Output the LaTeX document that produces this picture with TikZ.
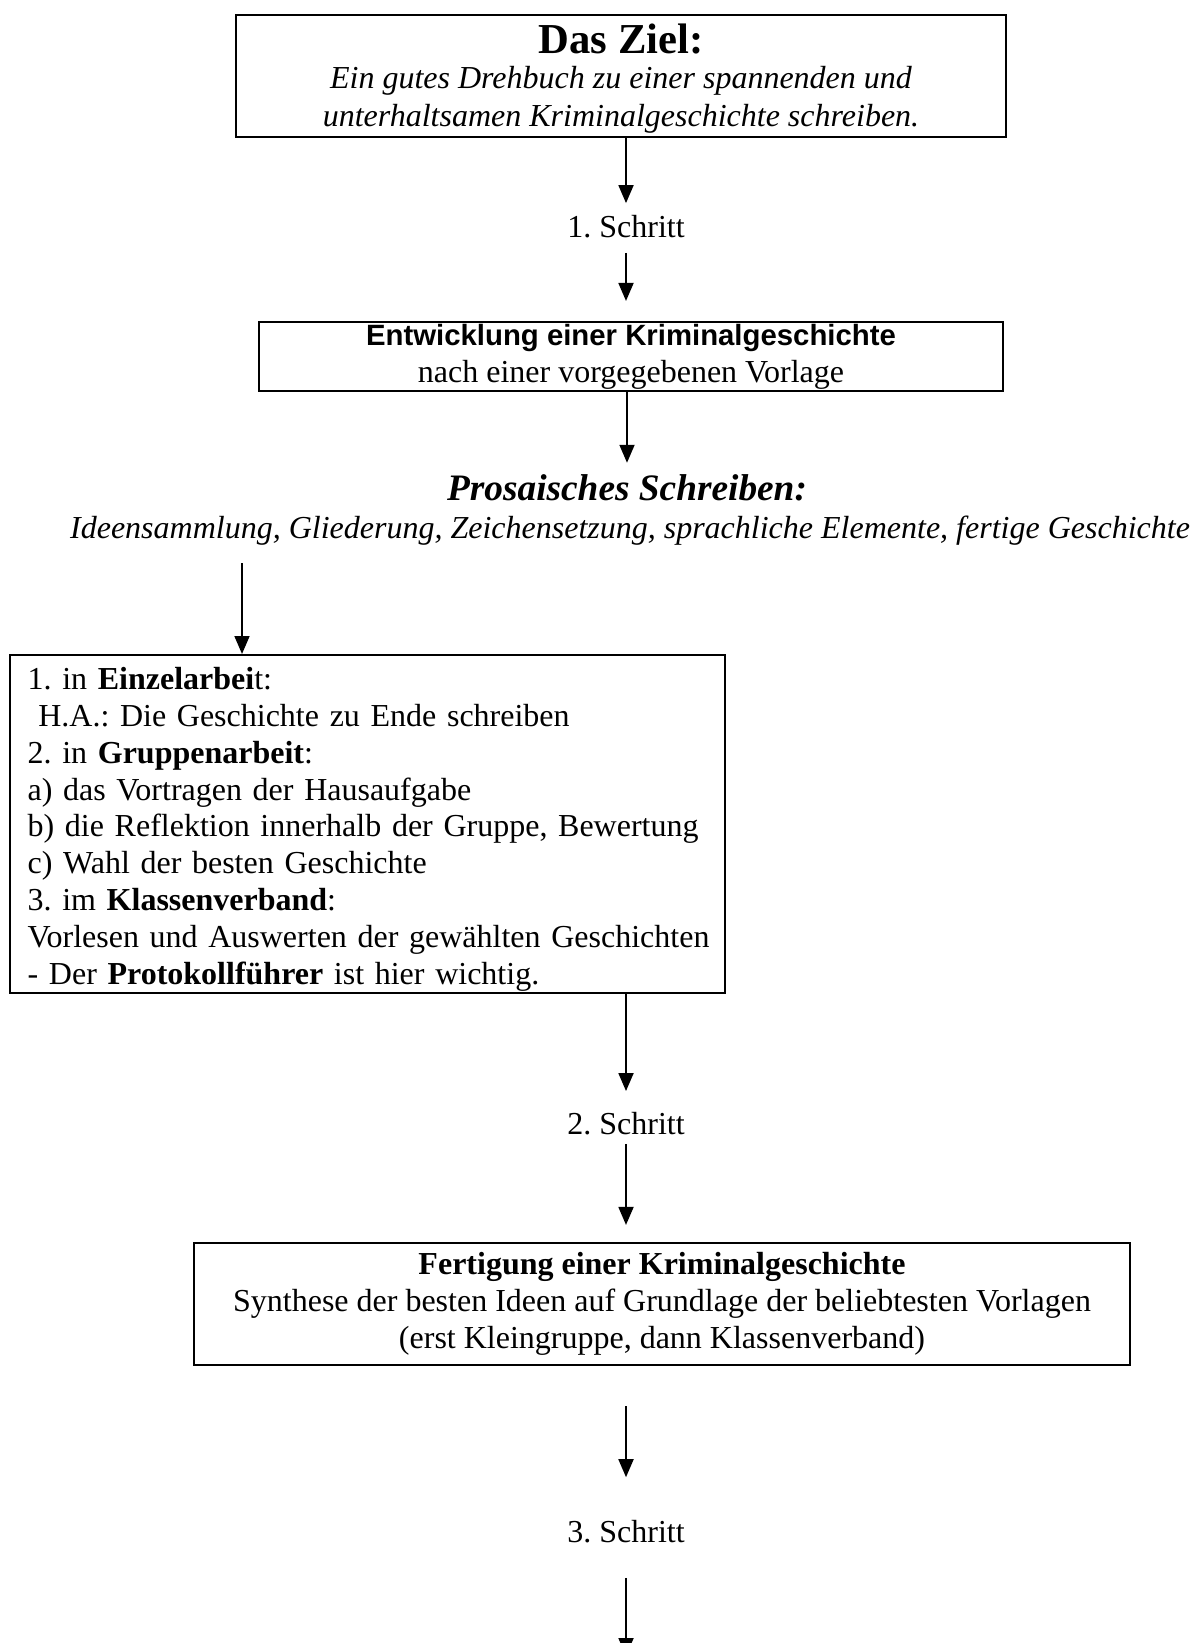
\documentclass[tikz,border=0pt]{standalone}
\usepackage{fontspec}
\setmainfont{Liberation Serif}
\newfontfamily\arialfont{Liberation Sans}
\usetikzlibrary{arrows.meta}
\tikzset{
rahmen/.style={draw, line width=0.75pt, inner sep=0, align=center, font=\fontsize{12}{13.8}\selectfont}, etikett/.style={inner sep=0, font=\fontsize{12}{13.8}\selectfont}, pfeil/.style={line width=0.75pt, -{Triangle[length=6.75pt, width=5.6pt]}}}
\begin{document}
\frenchspacing
\begin{tikzpicture}[x=0.375pt, y=-0.375pt]
\useasboundingbox (0,0) rectangle (1197,1643);
\node [rahmen, minimum width=288.75pt, minimum height=46.1pt, font=\fontsize{12}{14.25}\selectfont] at (621, 76) (ziel) {};
\node [align=center, inner sep=0, font=\fontsize{12}{14.25}\selectfont] at (621, 79) (ziel-text) {{\fontsize{16}{16}\selectfont\bfseries Das Ziel:}\\[-1.2pt]
      \itshape Ein gutes Drehbuch zu einer spannenden und\\
      \itshape unterhaltsamen Kriminalgeschichte schreiben.};
\node [etikett] at (626, 227) (schritt-1) {1. Schritt};
\node [rahmen, minimum width=279pt, minimum height=25.9pt] at (631, 356.5) (entwicklung) {{\arialfont\fontsize{11}{13.8}\selectfont\bfseries Entwicklung einer Kriminalgeschichte}\\
      nach einer vorgegebenen Vorlage};
\node [etikett, font=\fontsize{14}{16}\selectfont\bfseries\itshape] at (627, 488) (prosa) {Prosaisches Schreiben:};
\node [etikett, font=\fontsize{12}{13.8}\selectfont\itshape] at (630, 531) (ideen) {Ideensammlung, Gliederung, Zeichensetzung, sprachliche Elemente, fertige Geschichte};
\node [rahmen, minimum width=268.1pt, minimum height=126.75pt, align=left, inner xsep=6.6pt, text width=254.9pt] at (367.5, 824) (einzel) {\rule{0pt}{12.3pt}1. in \textbf{Einzelarbei}t:\\
      \ H.A.: Die Geschichte zu Ende schreiben\\
      2. in \textbf{Gruppenarbeit}:\\
      a) das Vortragen der Hausaufgabe\\
      b) die Reflektion innerhalb der Gruppe, Bewertung\\
      c) Wahl der besten Geschichte\\
      3. im \textbf{Klassenverband}:\\
      \mbox{Vorlesen und Auswerten der gewählten Geschichten}\\
      - Der \textbf{Protokollführer} ist hier wichtig.};
\node [etikett] at (626, 1124) (schritt-2) {2. Schritt};
\node [rahmen, minimum width=351pt, minimum height=45.75pt] at (662, 1304) (fertigung) {\textbf{Fertigung einer Kriminalgeschichte}\\
      Synthese der besten Ideen auf Grundlage der beliebtesten Vorlagen\\
      (erst Kleingruppe, dann Klassenverband)};
\node [etikett] at (626, 1532) (schritt-3) {3. Schritt};
\coordinate (abzweig) at (242, 563);
\coordinate (ende) at (626, 1656);

\draw [pfeil, shorten >=4.5pt] (ziel.south -| schritt-1) -- (schritt-1.north);
\draw [pfeil, shorten <=5.25pt, shorten >=7.5pt] (schritt-1.south) -- (entwicklung.north -| schritt-1);
\draw [pfeil, shorten >=4.3pt] (entwicklung.south -| prosa) -- (prosa.north);
\draw [pfeil] (abzweig) -- (abzweig |- einzel.north);
\draw [pfeil, shorten >=7.9pt] (einzel.south -| schritt-2) -- (schritt-2.north);
\draw [pfeil, shorten <=3pt, shorten >=6.4pt] (schritt-2.south) -- (fertigung.north -| schritt-2);
\draw [pfeil, shorten <=15pt, shorten >=16.1pt] (fertigung.south -| schritt-3) -- (schritt-3.north);
\draw [pfeil, shorten <=12.75pt] (schritt-3.south) -- (ende);
\end{tikzpicture}
\end{document}
